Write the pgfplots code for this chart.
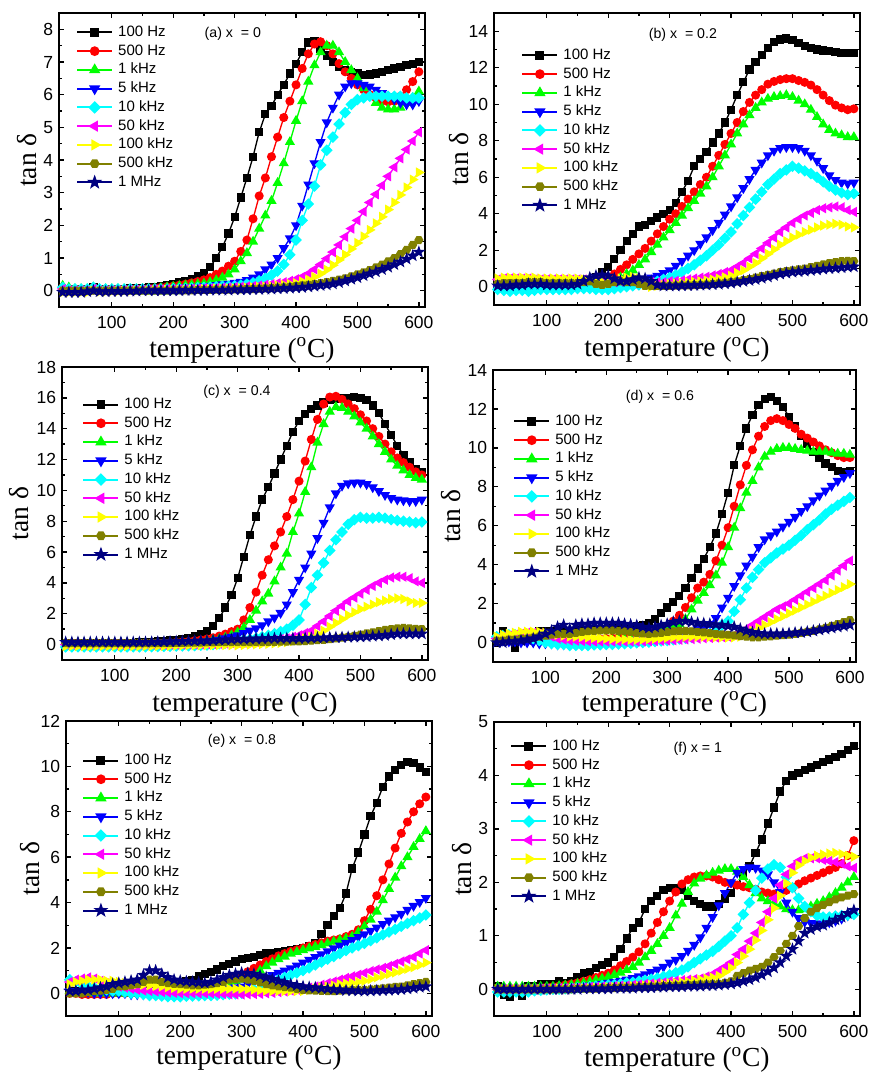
\documentclass[border=0pt]{standalone}
\usepackage{pgfplots}
\pgfplotsset{compat=1.18}
\usepackage{pgfplotstable}
\usetikzlibrary{plotmarks}
\usepackage{fontspec}
\setmainfont{Liberation Sans}
\newfontfamily\serif{Liberation Serif}
\definecolor{navy}{RGB}{0,0,128}
\definecolor{olive}{RGB}{128,128,0}
\definecolor{cgreen}{RGB}{0,255,0}
\definecolor{cblue}{RGB}{0,0,255}
\definecolor{cred}{RGB}{255,0,0}
\definecolor{ccyan}{RGB}{0,255,255}
\definecolor{cmag}{RGB}{255,0,255}
\definecolor{cyel}{RGB}{255,255,0}

\pgfdeclareplotmark{hexa}{%
 \pgfpathmoveto{\pgfqpoint{\pgfplotmarksize}{0pt}}%
 \pgfpathlineto{\pgfqpoint{0.5\pgfplotmarksize}{0.866\pgfplotmarksize}}%
 \pgfpathlineto{\pgfqpoint{-0.5\pgfplotmarksize}{0.866\pgfplotmarksize}}%
 \pgfpathlineto{\pgfqpoint{-\pgfplotmarksize}{0pt}}%
 \pgfpathlineto{\pgfqpoint{-0.5\pgfplotmarksize}{-0.866\pgfplotmarksize}}%
 \pgfpathlineto{\pgfqpoint{0.5\pgfplotmarksize}{-0.866\pgfplotmarksize}}%
 \pgfpathclose\pgfusepathqfillstroke}
\pgfdeclareplotmark{fstar}{%
 \pgfpathmoveto{\pgfqpoint{0pt}{1.25\pgfplotmarksize}}%
 \pgfpathlineto{\pgfqpoint{-0.2939\pgfplotmarksize}{0.4045\pgfplotmarksize}}%
 \pgfpathlineto{\pgfqpoint{-1.1889\pgfplotmarksize}{0.3863\pgfplotmarksize}}%
 \pgfpathlineto{\pgfqpoint{-0.4755\pgfplotmarksize}{-0.1545\pgfplotmarksize}}%
 \pgfpathlineto{\pgfqpoint{-0.7347\pgfplotmarksize}{-1.0113\pgfplotmarksize}}%
 \pgfpathlineto{\pgfqpoint{0pt}{-0.5\pgfplotmarksize}}%
 \pgfpathlineto{\pgfqpoint{0.7347\pgfplotmarksize}{-1.0113\pgfplotmarksize}}%
 \pgfpathlineto{\pgfqpoint{0.4755\pgfplotmarksize}{-0.1545\pgfplotmarksize}}%
 \pgfpathlineto{\pgfqpoint{1.1889\pgfplotmarksize}{0.3863\pgfplotmarksize}}%
 \pgfpathlineto{\pgfqpoint{0.2939\pgfplotmarksize}{0.4045\pgfplotmarksize}}%
 \pgfpathclose\pgfusepathqfillstroke}

\pgfplotscreateplotcyclelist{tand}{%
black,mark=square*,mark options={scale=0.9}\\%
cred,mark=*\\%
cgreen,mark=triangle*,mark options={scale=1.2}\\%
cblue,mark=triangle*,mark options={rotate=180,scale=1.2}\\%
ccyan,mark=square*,mark options={rotate=45,scale=0.9}\\%
cmag,mark=triangle*,mark options={rotate=90,scale=1.2}\\%
cyel,mark=triangle*,mark options={rotate=-90,scale=1.2}\\%
olive,mark=hexa\\%
navy,mark=fstar\\%
}

\tikzset{ptitle/.style={font=\fontsize{8.5}{10}\selectfont, inner sep=0pt}}

\pgfplotsset{
 tdax/.style={
  scale only axis,
  axis line style={line width=1.1pt},
  every tick/.style={black, line width=0.8pt},
  major tick length=3pt, minor tick length=1.8pt,
  tick align=inside,
  xmin=14, xmax=610, xtick={100,200,...,600},
  minor x tick num=1, minor y tick num=1,
  /pgf/number format/assume math mode=true,
  ticklabel style={font=\fontsize{10.5}{12}\selectfont},
  xticklabel style={yshift=-2pt},
  xlabel={\serif temperature (\textsuperscript{o}C)},
  ylabel={\serif tan δ},
  label style={font=\fontsize{16.5}{18}\selectfont},
  xlabel style={anchor=north, inner sep=0pt},
  ylabel style={anchor=center, inner sep=0pt},
  cycle list name=tand,
  every axis plot/.append style={line width=0.8pt, mark size=2.3pt},
  legend style={anchor=north west, draw=none, fill=none, inner sep=0pt,
    font=\fontsize{9}{10}\selectfont, row sep=0pt, column sep=3pt,
    nodes={inner sep=0pt, text height=8pt, text depth=3.25pt}},
  legend cell align=left,
  legend image code/.code={\draw[mark repeat=2,mark phase=2,##1,line width=1.2pt] plot coordinates {(0pt,0pt) (10.5pt,0pt) (21pt,0pt)};},
  legend entries={100 Hz, 500 Hz, 1 kHz, 5 kHz, 10 kHz, 50 kHz, 100 kHz, 500 kHz, 1 MHz},
 },
}

\newcommand\nine[1]{%
\addplot table[x=T,y=bk]{#1};
\addplot table[x=T,y=rd]{#1};
\addplot table[x=T,y=gn]{#1};
\addplot table[x=T,y=bl]{#1};
\addplot table[x=T,y=cy]{#1};
\addplot table[x=T,y=mg]{#1};
\addplot table[x=T,y=ye]{#1};
\addplot table[x=T,y=ol]{#1};
\addplot table[x=T,y=nv]{#1};
}

\pgfplotstableread{
T bk rd gn bl cy mg ye ol nv
20 0.05 0.10 0.15 0.05 0.10 0.05 -0.05 0.00 -0.05
30 0.05 0.05 0.10 0.05 0.05 0.00 -0.05 0.00 -0.05
40 0.05 0.05 0.05 0.05 0.05 0.00 -0.05 0.00 -0.05
50 0.05 0.05 0.05 0.05 0.05 0.00 -0.05 0.00 -0.05
60 0.05 0.05 0.05 0.05 0.05 0.00 -0.05 0.00 -0.03
70 0.10 0.10 0.10 0.05 0.10 0.05 0.00 0.00 0.00
80 0.05 0.05 0.05 0.05 0.05 0.00 -0.03 0.00 -0.03
90 0.05 0.05 0.05 0.05 0.05 0.00 -0.03 0.00 -0.03
100 0.05 0.05 0.05 0.05 0.05 0.00 -0.02 0.00 -0.02
110 0.06 0.05 0.05 0.05 0.05 0.00 -0.02 0.00 -0.02
120 0.06 0.05 0.05 0.05 0.05 0.01 -0.01 0.00 -0.02
130 0.07 0.05 0.05 0.05 0.05 0.01 -0.01 0.00 -0.01
140 0.08 0.06 0.05 0.05 0.05 0.02 0.00 0.00 -0.01
150 0.09 0.06 0.05 0.05 0.05 0.02 0.00 0.00 0.00
160 0.10 0.07 0.06 0.05 0.05 0.03 0.00 0.00 0.00
170 0.12 0.08 0.07 0.05 0.05 0.03 0.01 0.00 0.00
180 0.15 0.10 0.08 0.06 0.05 0.03 0.01 0.00 0.00
190 0.18 0.12 0.10 0.07 0.05 0.04 0.02 0.00 0.00
200 0.20 0.14 0.12 0.08 0.06 0.04 0.02 0.01 0.00
210 0.25 0.17 0.14 0.09 0.06 0.05 0.03 0.01 0.00
220 0.30 0.20 0.16 0.10 0.07 0.05 0.03 0.01 0.01
230 0.36 0.24 0.18 0.11 0.08 0.06 0.04 0.01 0.01
240 0.45 0.28 0.20 0.12 0.09 0.06 0.04 0.02 0.01
250 0.55 0.33 0.22 0.14 0.10 0.07 0.05 0.02 0.01
260 0.72 0.40 0.26 0.15 0.11 0.07 0.05 0.02 0.02
270 1.00 0.50 0.32 0.17 0.12 0.08 0.06 0.03 0.02
280 1.33 0.60 0.40 0.19 0.13 0.09 0.06 0.03 0.02
290 1.75 0.75 0.50 0.21 0.14 0.10 0.07 0.03 0.02
300 2.25 0.90 0.65 0.24 0.15 0.11 0.07 0.04 0.03
310 2.85 1.20 0.90 0.27 0.17 0.12 0.08 0.04 0.03
320 3.45 1.55 1.15 0.32 0.20 0.13 0.09 0.05 0.03
330 4.10 2.20 1.50 0.40 0.24 0.14 0.10 0.05 0.04
340 4.85 2.90 1.90 0.50 0.30 0.16 0.11 0.06 0.04
350 5.40 3.45 2.30 0.65 0.38 0.18 0.12 0.07 0.05
360 5.65 4.10 2.75 0.80 0.48 0.20 0.14 0.08 0.05
370 6.00 4.70 3.30 1.00 0.60 0.23 0.16 0.09 0.06
380 6.30 5.30 3.90 1.30 0.80 0.26 0.18 0.10 0.07
390 6.65 5.80 4.55 1.60 1.10 0.30 0.20 0.12 0.08
400 6.95 6.30 5.20 2.00 1.55 0.35 0.23 0.14 0.09
410 7.30 6.80 5.80 2.60 2.15 0.42 0.28 0.16 0.10
420 7.60 7.25 6.40 3.25 2.65 0.52 0.34 0.18 0.12
430 7.65 7.55 6.90 3.90 3.20 0.65 0.42 0.20 0.14
440 7.40 7.62 7.30 4.55 3.85 0.80 0.52 0.23 0.16
450 7.20 7.50 7.50 5.15 4.30 0.98 0.64 0.26 0.18
460 7.00 7.25 7.50 5.60 4.70 1.18 0.78 0.30 0.21
470 6.85 6.95 7.30 6.00 5.10 1.40 0.94 0.34 0.25
480 6.75 6.70 7.00 6.25 5.45 1.65 1.10 0.38 0.30
490 6.70 6.50 6.75 6.35 5.70 1.90 1.28 0.44 0.35
500 6.65 6.30 6.50 6.35 5.85 2.15 1.46 0.50 0.40
510 6.60 6.15 6.20 6.30 5.90 2.42 1.66 0.56 0.46
520 6.62 6.00 5.95 6.25 5.95 2.70 1.86 0.63 0.52
530 6.65 5.90 5.75 6.15 5.95 2.95 2.06 0.71 0.58
540 6.70 5.80 5.60 6.05 5.95 3.22 2.26 0.80 0.65
550 6.75 5.78 5.55 5.95 5.95 3.50 2.48 0.90 0.72
560 6.80 5.80 5.55 5.85 5.95 3.78 2.70 1.00 0.80
570 6.85 5.95 5.60 5.75 5.95 4.05 2.93 1.12 0.88
580 6.90 6.15 5.75 5.70 5.90 4.32 3.16 1.25 0.97
590 6.95 6.40 5.90 5.70 5.90 4.58 3.40 1.40 1.07
600 7.00 6.70 6.10 5.80 5.90 4.85 3.62 1.55 1.18
}\tA

\pgfplotstableread{
T bk rd gn bl cy mg ye ol nv
20 0.10 0.05 0.00 -0.10 -0.15 0.40 0.45 0.15 0.05
30 0.05 0.05 0.00 -0.10 -0.20 0.45 0.50 0.20 0.05
40 0.00 0.00 -0.05 -0.15 -0.25 0.45 0.50 0.20 0.05
50 0.05 0.00 0.00 -0.10 -0.20 0.45 0.50 0.20 0.10
60 0.10 0.05 0.00 -0.10 -0.20 0.45 0.50 0.20 0.10
70 0.10 0.05 0.00 -0.10 -0.25 0.45 0.50 0.25 0.15
80 0.10 0.05 0.00 -0.10 -0.20 0.40 0.50 0.25 0.15
90 0.10 0.05 0.00 -0.10 -0.15 0.40 0.45 0.25 0.15
100 0.10 0.05 0.00 -0.05 -0.15 0.40 0.45 0.20 0.10
110 0.10 0.05 0.00 -0.05 -0.15 0.40 0.45 0.20 0.10
120 0.10 0.05 0.00 -0.05 -0.15 0.40 0.45 0.20 0.10
130 0.10 0.05 0.00 -0.05 -0.15 0.40 0.45 0.20 0.10
140 0.10 0.05 0.00 -0.05 -0.15 0.40 0.45 0.20 0.10
150 0.10 0.05 0.00 -0.05 -0.10 0.40 0.45 0.20 0.15
160 0.20 0.10 0.05 0.00 -0.10 0.40 0.40 0.25 0.30
170 0.35 0.20 0.10 0.05 -0.10 0.35 0.35 0.30 0.50
180 0.50 0.30 0.20 0.10 -0.15 0.30 0.30 0.15 0.60
190 0.80 0.40 0.25 0.15 -0.15 0.25 0.25 0.10 0.65
200 1.10 0.50 0.30 0.15 -0.15 0.20 0.20 0.15 0.60
210 1.50 0.70 0.35 0.15 -0.10 0.25 0.30 0.25 0.45
220 2.00 0.95 0.50 0.20 -0.05 0.30 0.45 0.30 0.30
230 2.50 1.20 0.70 0.25 0.00 0.30 0.50 0.25 0.30
240 2.90 1.50 0.90 0.30 0.05 0.30 0.55 0.25 0.40
250 3.30 1.80 1.20 0.35 0.10 0.30 0.45 0.15 0.50
260 3.40 2.10 1.50 0.40 0.15 0.25 0.10 0.05 0.45
270 3.60 2.50 1.90 0.50 0.20 0.25 0.00 0.05 0.30
280 3.80 2.90 2.30 0.60 0.30 0.25 0.05 0.05 0.10
290 4.00 3.30 2.70 0.75 0.40 0.25 0.10 0.05 0.05
300 4.20 3.70 3.10 0.90 0.50 0.30 0.15 0.05 0.05
310 4.60 4.00 3.50 1.15 0.65 0.32 0.18 0.06 0.05
320 5.20 4.40 3.90 1.40 0.80 0.35 0.20 0.07 0.06
330 5.80 4.80 4.30 1.70 1.00 0.40 0.24 0.08 0.07
340 6.60 5.20 4.70 2.00 1.20 0.45 0.27 0.09 0.08
350 7.00 5.60 5.10 2.35 1.45 0.50 0.30 0.10 0.09
360 7.40 6.00 5.50 2.70 1.70 0.55 0.35 0.12 0.10
370 7.90 6.60 6.00 3.10 2.00 0.62 0.40 0.15 0.12
380 8.40 7.20 6.60 3.50 2.30 0.70 0.45 0.18 0.14
390 9.00 7.80 7.20 3.95 2.65 0.80 0.52 0.21 0.17
400 9.70 8.40 7.80 4.40 3.00 0.90 0.60 0.25 0.20
410 10.50 9.00 8.40 4.90 3.45 1.10 0.75 0.30 0.25
420 11.20 9.60 8.90 5.40 3.90 1.30 0.90 0.36 0.30
430 11.90 10.10 9.40 5.90 4.35 1.55 1.10 0.42 0.35
440 12.30 10.50 9.80 6.40 4.80 1.80 1.30 0.50 0.40
450 12.70 10.80 10.10 6.80 5.20 2.10 1.55 0.58 0.47
460 13.10 11.10 10.30 7.20 5.60 2.40 1.80 0.65 0.54
470 13.40 11.25 10.40 7.45 5.90 2.70 2.05 0.72 0.62
480 13.55 11.35 10.45 7.60 6.20 3.00 2.30 0.80 0.70
490 13.60 11.40 10.50 7.65 6.40 3.25 2.50 0.85 0.75
500 13.50 11.40 10.40 7.65 6.60 3.50 2.70 0.90 0.80
510 13.35 11.30 10.20 7.60 6.50 3.70 2.85 0.95 0.83
520 13.20 11.20 10.00 7.45 6.35 3.90 3.00 1.00 0.86
530 13.10 11.05 9.70 7.20 6.20 4.05 3.12 1.08 0.90
540 13.00 10.80 9.30 6.90 6.00 4.20 3.25 1.15 0.93
550 12.95 10.50 8.90 6.50 5.75 4.30 3.35 1.22 0.97
560 12.90 10.20 8.60 6.10 5.50 4.35 3.40 1.30 1.00
570 12.85 9.95 8.40 5.85 5.30 4.40 3.45 1.35 1.02
580 12.80 9.80 8.30 5.70 5.15 4.35 3.40 1.40 1.05
590 12.80 9.70 8.20 5.65 5.05 4.20 3.30 1.42 1.08
600 12.80 9.75 8.20 5.70 5.10 4.10 3.25 1.40 1.10
}\tB

\pgfplotstableread{
T bk rd gn bl cy mg ye ol nv
20 0.10 0.05 0.10 0.00 -0.15 0.00 -0.10 0.10 0.15
30 0.10 0.05 0.10 0.00 -0.15 0.00 -0.10 0.10 0.15
40 0.10 0.05 0.10 0.00 -0.15 0.00 -0.10 0.10 0.15
50 0.10 0.05 0.10 0.00 -0.15 0.00 -0.10 0.10 0.15
60 0.10 0.05 0.10 0.00 -0.15 0.00 -0.10 0.10 0.15
70 0.10 0.05 0.10 0.00 -0.15 0.00 -0.10 0.10 0.15
80 0.10 0.05 0.10 0.00 -0.15 0.00 -0.10 0.10 0.15
90 0.10 0.05 0.10 0.00 -0.15 0.00 -0.10 0.10 0.15
100 0.10 0.05 0.10 0.00 -0.15 0.00 -0.10 0.10 0.15
110 0.10 0.05 0.10 0.00 -0.15 0.00 -0.10 0.10 0.15
120 0.12 0.05 0.10 0.00 -0.15 0.00 -0.10 0.10 0.15
130 0.12 0.05 0.10 0.00 -0.15 0.00 -0.10 0.10 0.15
140 0.14 0.06 0.10 0.00 -0.15 0.00 -0.10 0.10 0.15
150 0.15 0.07 0.10 0.00 -0.15 0.00 -0.10 0.10 0.15
160 0.17 0.08 0.10 0.01 -0.14 0.00 -0.10 0.10 0.16
170 0.20 0.09 0.10 0.02 -0.13 0.00 -0.10 0.10 0.17
180 0.23 0.10 0.10 0.03 -0.12 0.00 -0.09 0.10 0.18
190 0.26 0.12 0.10 0.04 -0.11 0.00 -0.08 0.10 0.19
200 0.30 0.14 0.11 0.05 -0.10 0.00 -0.07 0.11 0.20
210 0.35 0.17 0.12 0.06 -0.09 0.00 -0.06 0.11 0.21
220 0.45 0.20 0.14 0.08 -0.08 0.01 -0.05 0.12 0.22
230 0.55 0.25 0.17 0.10 -0.07 0.01 -0.05 0.12 0.23
240 0.70 0.30 0.20 0.13 -0.05 0.02 -0.04 0.13 0.24
250 0.90 0.36 0.25 0.20 -0.03 0.03 -0.03 0.14 0.25
260 1.20 0.44 0.30 0.25 0.00 0.04 -0.03 0.14 0.27
270 1.70 0.55 0.36 0.30 0.05 0.05 -0.03 0.15 0.29
280 2.40 0.68 0.45 0.40 0.10 0.06 -0.03 0.15 0.31
290 3.20 0.84 0.60 0.50 0.17 0.08 -0.04 0.15 0.33
300 4.30 1.00 0.80 0.60 0.25 0.10 -0.05 0.15 0.35
310 5.70 1.60 1.10 0.75 0.30 0.12 -0.03 0.16 0.36
320 7.10 2.40 1.60 0.90 0.35 0.15 0.00 0.16 0.37
330 8.30 3.40 2.20 1.05 0.42 0.17 0.02 0.17 0.38
340 9.40 4.50 2.80 1.25 0.50 0.20 0.04 0.17 0.39
350 10.20 5.50 3.30 1.50 0.60 0.25 0.05 0.18 0.40
360 11.10 6.40 4.10 1.75 0.70 0.30 0.08 0.18 0.40
370 12.00 7.30 5.00 2.05 0.85 0.35 0.11 0.19 0.40
380 12.90 8.30 5.90 2.60 1.00 0.40 0.15 0.19 0.40
390 13.80 9.40 7.30 3.40 1.25 0.50 0.22 0.20 0.40
400 14.50 10.60 8.50 4.20 1.60 0.60 0.30 0.20 0.40
410 14.95 11.90 9.90 5.00 2.60 0.75 0.40 0.22 0.41
420 15.30 13.30 11.50 5.90 3.70 0.90 0.50 0.25 0.42
430 15.50 14.60 13.10 6.90 4.50 1.20 0.70 0.28 0.43
440 15.70 15.60 14.30 7.90 5.30 1.50 0.90 0.30 0.44
450 15.85 16.05 15.10 8.90 6.10 1.85 1.15 0.35 0.45
460 15.90 16.10 15.40 9.80 6.80 2.20 1.40 0.40 0.46
470 15.95 15.90 15.35 10.30 7.30 2.50 1.65 0.45 0.47
480 16.00 15.60 15.10 10.45 7.80 2.80 1.90 0.50 0.48
490 16.05 15.30 14.80 10.50 8.10 3.05 2.10 0.57 0.49
500 16.00 14.90 14.40 10.50 8.25 3.30 2.30 0.65 0.50
510 15.85 14.50 14.00 10.40 8.20 3.55 2.45 0.72 0.52
520 15.50 14.00 13.50 10.20 8.20 3.80 2.60 0.80 0.55
530 15.00 13.50 13.00 9.95 8.25 4.00 2.75 0.88 0.57
540 14.30 13.00 12.50 9.70 8.20 4.20 2.85 0.95 0.60
550 13.60 12.50 12.00 9.50 8.10 4.35 2.95 1.00 0.65
560 12.90 12.10 11.60 9.40 8.05 4.40 3.00 1.05 0.70
570 12.30 11.80 11.30 9.35 8.00 4.40 2.95 1.08 0.70
580 11.80 11.50 11.00 9.30 7.95 4.30 2.80 1.05 0.70
590 11.40 11.20 10.80 9.30 7.90 4.10 2.70 1.02 0.70
600 11.20 11.00 10.70 9.40 7.95 4.00 2.70 1.00 0.70
}\tC

\pgfplotstableread{
T bk rd gn bl cy mg ye ol nv
20 0.00 0.20 0.20 0.10 0.30 0.20 0.30 0.10 0.00
30 0.60 0.25 0.25 0.10 0.35 0.30 0.40 0.10 0.00
40 0.20 0.30 0.25 0.05 0.40 0.35 0.45 0.15 0.05
50 -0.25 0.30 0.25 0.05 0.40 0.40 0.50 0.15 0.05
60 0.10 0.30 0.25 0.00 0.35 0.45 0.55 0.20 0.10
70 0.30 0.25 0.20 0.00 0.30 0.50 0.55 0.20 0.15
80 0.50 0.20 0.20 0.00 0.20 0.50 0.55 0.25 0.20
90 0.60 0.15 0.15 -0.05 0.10 0.45 0.55 0.30 0.30
100 0.60 0.10 0.10 -0.05 0.00 0.40 0.50 0.35 0.45
110 0.60 0.10 0.10 -0.05 -0.05 0.30 0.45 0.40 0.60
120 0.60 0.10 0.10 -0.10 -0.10 0.20 0.40 0.45 0.80
130 0.60 0.10 0.10 -0.10 -0.10 0.15 0.35 0.45 0.90
140 0.60 0.10 0.10 -0.10 -0.15 0.10 0.30 0.45 0.70
150 0.60 0.10 0.10 -0.10 -0.15 0.10 0.30 0.50 0.90
160 0.65 0.12 0.10 -0.10 -0.15 0.08 0.28 0.55 0.95
170 0.65 0.14 0.10 -0.08 -0.15 0.06 0.26 0.58 0.95
180 0.70 0.16 0.10 -0.06 -0.12 0.05 0.24 0.60 1.00
190 0.70 0.18 0.10 -0.05 -0.12 0.05 0.22 0.62 1.00
200 0.70 0.20 0.10 -0.05 -0.10 0.05 0.20 0.62 1.00
210 0.72 0.22 0.12 -0.03 -0.10 0.05 0.18 0.62 1.00
220 0.75 0.25 0.15 0.00 -0.08 0.05 0.17 0.60 1.00
230 0.78 0.30 0.18 0.02 -0.06 0.05 0.16 0.58 0.95
240 0.80 0.35 0.22 0.05 -0.04 0.05 0.15 0.55 0.92
250 0.85 0.40 0.28 0.08 -0.02 0.05 0.15 0.50 0.88
260 0.90 0.45 0.35 0.10 0.00 0.06 0.16 0.47 0.80
270 1.00 0.50 0.42 0.14 0.02 0.07 0.18 0.45 0.75
280 1.20 0.58 0.50 0.18 0.05 0.08 0.20 0.47 0.80
290 1.50 0.70 0.57 0.22 0.08 0.09 0.22 0.50 0.88
300 1.80 0.85 0.65 0.28 0.10 0.10 0.25 0.55 0.95
310 2.10 1.10 0.80 0.35 0.14 0.12 0.27 0.58 1.05
320 2.40 1.40 0.95 0.42 0.18 0.14 0.28 0.60 1.10
330 2.80 1.80 1.20 0.50 0.22 0.16 0.29 0.60 1.10
340 3.30 2.30 1.70 0.60 0.27 0.18 0.30 0.58 1.05
350 3.80 2.80 2.15 0.70 0.32 0.20 0.30 0.55 1.00
360 4.30 3.10 2.55 0.80 0.38 0.22 0.30 0.52 0.98
370 4.90 3.50 2.95 0.95 0.45 0.24 0.29 0.48 0.95
380 5.60 4.20 3.45 1.25 0.60 0.26 0.28 0.45 0.92
390 6.60 5.00 4.10 1.80 0.90 0.28 0.27 0.42 0.90
400 7.70 5.90 4.90 2.30 1.10 0.30 0.26 0.40 0.85
410 9.10 7.00 5.90 2.90 1.60 0.38 0.27 0.37 0.80
420 10.10 8.10 6.90 3.45 2.20 0.50 0.30 0.33 0.70
430 11.00 9.10 7.70 3.95 2.80 0.70 0.45 0.30 0.60
440 11.70 9.90 8.30 4.40 3.35 0.90 0.60 0.27 0.52
450 12.20 10.60 9.00 4.90 3.75 1.10 0.75 0.27 0.48
460 12.50 11.10 9.55 5.30 4.10 1.30 0.90 0.30 0.45
470 12.60 11.40 9.80 5.50 4.35 1.50 1.05 0.32 0.45
480 12.40 11.50 9.95 5.70 4.60 1.70 1.20 0.35 0.45
490 12.10 11.40 10.00 5.95 4.80 1.85 1.35 0.38 0.45
500 11.60 11.20 10.00 6.20 5.00 2.00 1.50 0.40 0.47
510 11.10 11.00 9.95 6.45 5.25 2.20 1.65 0.45 0.50
520 10.60 10.70 9.90 6.75 5.50 2.40 1.80 0.50 0.52
530 10.20 10.50 9.85 7.00 5.80 2.60 1.95 0.55 0.55
540 9.80 10.30 9.80 7.30 6.05 2.80 2.10 0.60 0.60
550 9.50 10.10 9.80 7.55 6.30 3.00 2.25 0.68 0.65
560 9.20 9.90 9.80 7.80 6.60 3.20 2.40 0.75 0.70
570 9.00 9.75 9.75 8.05 6.85 3.45 2.55 0.85 0.75
580 8.80 9.60 9.70 8.30 7.05 3.70 2.70 0.95 0.80
590 8.75 9.50 9.70 8.50 7.25 3.95 2.85 1.05 0.85
600 8.80 9.50 9.65 8.70 7.45 4.20 3.00 1.15 0.90
}\tD

\pgfplotstableread{
T bk rd gn bl cy mg ye ol nv
20 0.10 0.00 0.10 0.10 0.60 0.50 0.40 0.00 0.10
30 0.10 0.00 0.05 0.10 0.50 0.60 0.50 0.00 0.10
40 0.10 -0.05 0.05 0.05 0.40 0.65 0.55 0.00 0.15
50 0.10 -0.05 0.05 0.05 0.30 0.70 0.60 0.05 0.15
60 0.15 -0.05 0.00 0.00 0.25 0.65 0.60 0.10 0.20
70 0.20 -0.05 0.00 0.00 0.20 0.55 0.60 0.12 0.25
80 0.25 -0.05 0.00 0.00 0.15 0.45 0.55 0.15 0.30
90 0.30 0.00 0.00 0.00 0.10 0.35 0.55 0.20 0.40
100 0.35 0.00 0.00 0.00 0.10 0.30 0.50 0.30 0.45
110 0.40 0.00 0.00 0.00 0.05 0.25 0.45 0.30 0.50
120 0.40 0.00 0.00 -0.05 0.00 0.20 0.40 0.35 0.55
130 0.40 0.00 0.00 -0.05 0.00 0.15 0.40 0.40 0.60
140 0.40 0.00 0.00 -0.05 -0.05 0.12 0.38 0.50 0.80
150 0.40 0.00 0.00 -0.05 -0.10 0.10 0.35 0.60 1.00
160 0.40 0.00 0.02 -0.05 -0.10 0.08 0.32 0.60 1.00
170 0.40 0.02 0.04 -0.05 -0.12 0.06 0.30 0.50 0.85
180 0.40 0.04 0.06 -0.03 -0.15 0.04 0.27 0.45 0.70
190 0.45 0.06 0.08 -0.02 -0.15 0.02 0.24 0.42 0.60
200 0.50 0.10 0.10 0.00 -0.15 0.00 0.20 0.40 0.55
210 0.55 0.15 0.12 0.02 -0.13 0.00 0.20 0.38 0.52
220 0.60 0.20 0.15 0.04 -0.12 0.00 0.20 0.35 0.50
230 0.75 0.28 0.20 0.06 -0.11 0.00 0.20 0.35 0.48
240 0.85 0.35 0.25 0.08 -0.10 0.00 0.20 0.38 0.45
250 0.95 0.40 0.30 0.10 -0.10 0.00 0.20 0.40 0.50
260 1.05 0.45 0.35 0.14 -0.08 -0.02 0.20 0.45 0.60
270 1.20 0.52 0.42 0.18 -0.06 -0.03 0.20 0.50 0.70
280 1.30 0.60 0.50 0.22 -0.04 -0.04 0.20 0.60 0.80
290 1.40 0.70 0.55 0.26 -0.02 -0.05 0.20 0.62 0.85
300 1.50 0.80 0.60 0.30 0.00 -0.05 0.20 0.65 0.90
310 1.55 0.95 0.70 0.40 0.08 -0.04 0.18 0.60 0.88
320 1.60 1.10 0.80 0.50 0.15 -0.03 0.16 0.55 0.85
330 1.68 1.25 1.00 0.60 0.22 -0.02 0.14 0.48 0.78
340 1.75 1.40 1.20 0.70 0.30 0.00 0.12 0.40 0.70
350 1.78 1.52 1.35 0.80 0.45 0.02 0.10 0.35 0.62
360 1.80 1.65 1.50 0.90 0.60 0.05 0.10 0.30 0.55
370 1.85 1.75 1.62 1.00 0.70 0.08 0.10 0.27 0.48
380 1.90 1.85 1.75 1.10 0.80 0.12 0.10 0.25 0.40
390 1.95 1.92 1.82 1.22 0.90 0.16 0.10 0.20 0.35
400 2.00 2.00 1.90 1.35 1.00 0.20 0.10 0.15 0.30
410 2.08 2.08 1.98 1.48 1.12 0.25 0.15 0.13 0.27
420 2.20 2.15 2.05 1.60 1.25 0.30 0.20 0.12 0.25
430 2.60 2.22 2.12 1.72 1.38 0.38 0.25 0.11 0.22
440 3.00 2.30 2.20 1.85 1.50 0.45 0.30 0.10 0.20
450 3.40 2.35 2.28 1.98 1.62 0.52 0.35 0.10 0.17
460 3.75 2.40 2.35 2.10 1.75 0.60 0.40 0.12 0.15
470 4.40 2.50 2.42 2.22 1.88 0.68 0.43 0.13 0.13
480 5.50 2.60 2.50 2.35 2.00 0.75 0.45 0.14 0.12
490 6.20 2.80 2.70 2.48 2.10 0.82 0.50 0.15 0.11
500 7.00 3.20 2.95 2.60 2.20 0.90 0.55 0.15 0.10
510 7.80 3.70 3.25 2.75 2.32 0.98 0.62 0.17 0.11
520 8.40 4.30 3.60 2.90 2.45 1.05 0.70 0.20 0.12
530 9.10 5.00 4.10 3.05 2.58 1.12 0.78 0.22 0.13
540 9.55 5.70 4.60 3.20 2.70 1.20 0.85 0.25 0.14
550 9.85 6.40 5.10 3.35 2.82 1.30 0.92 0.28 0.15
560 10.05 7.05 5.60 3.50 2.95 1.40 1.00 0.30 0.17
570 10.20 7.55 6.00 3.68 3.08 1.50 1.08 0.35 0.20
580 10.15 8.00 6.45 3.85 3.20 1.60 1.15 0.40 0.23
590 9.95 8.35 6.80 4.02 3.32 1.75 1.25 0.45 0.27
600 9.75 8.65 7.15 4.20 3.45 1.90 1.35 0.50 0.30
}\tE

\pgfplotstableread{
T bk rd gn bl cy mg ye ol nv
20 0.05 0.00 0.05 0.00 -0.05 0.00 0.00 0.00 0.00
30 -0.10 0.00 0.05 0.00 -0.05 0.00 0.00 0.00 0.00
40 -0.15 0.00 0.05 0.00 -0.05 0.00 0.00 0.00 0.00
50 0.00 0.00 0.05 0.00 -0.05 0.00 0.00 0.00 0.00
60 -0.12 0.00 0.05 0.00 -0.05 0.00 0.00 0.00 0.00
70 0.05 0.00 0.05 0.00 -0.05 0.00 0.00 0.00 0.00
80 0.05 0.02 0.05 0.00 -0.03 0.00 0.00 0.00 0.00
90 0.10 0.03 0.05 0.01 -0.02 0.01 0.00 0.00 0.00
100 0.10 0.04 0.05 0.02 -0.01 0.01 0.00 0.00 0.00
110 0.10 0.05 0.05 0.02 0.00 0.01 0.00 0.00 0.00
120 0.15 0.06 0.06 0.03 0.00 0.02 0.01 0.00 0.00
130 0.12 0.08 0.07 0.03 0.01 0.02 0.01 0.00 0.00
140 0.15 0.10 0.08 0.04 0.02 0.02 0.01 0.00 0.00
150 0.22 0.12 0.10 0.05 0.03 0.03 0.02 0.01 0.00
160 0.30 0.15 0.12 0.06 0.04 0.03 0.02 0.01 0.01
170 0.32 0.18 0.14 0.07 0.05 0.04 0.02 0.01 0.01
180 0.40 0.22 0.17 0.08 0.06 0.04 0.03 0.01 0.01
190 0.45 0.26 0.20 0.10 0.07 0.05 0.03 0.02 0.01
200 0.50 0.30 0.23 0.12 0.08 0.05 0.04 0.02 0.01
210 0.60 0.36 0.27 0.14 0.09 0.06 0.04 0.02 0.02
220 0.75 0.44 0.31 0.16 0.10 0.07 0.05 0.03 0.02
230 0.95 0.52 0.36 0.18 0.12 0.07 0.05 0.03 0.02
240 1.15 0.60 0.42 0.21 0.13 0.08 0.06 0.03 0.02
250 1.25 0.70 0.50 0.24 0.15 0.09 0.06 0.04 0.03
260 1.50 0.85 0.60 0.28 0.17 0.10 0.07 0.04 0.03
270 1.65 1.05 0.72 0.32 0.19 0.11 0.08 0.05 0.03
280 1.75 1.25 0.85 0.37 0.21 0.12 0.09 0.05 0.04
290 1.85 1.45 1.00 0.42 0.24 0.13 0.10 0.06 0.04
300 1.90 1.65 1.15 0.50 0.27 0.15 0.11 0.06 0.05
310 1.90 1.82 1.38 0.55 0.31 0.16 0.12 0.07 0.05
320 1.85 1.97 1.60 0.62 0.36 0.17 0.13 0.07 0.05
330 1.75 2.05 1.82 0.72 0.42 0.18 0.14 0.08 0.06
340 1.65 2.10 1.98 0.83 0.50 0.19 0.16 0.08 0.06
350 1.60 2.12 2.07 0.97 0.57 0.20 0.18 0.09 0.06
360 1.55 2.12 2.13 1.15 0.64 0.24 0.20 0.09 0.07
370 1.55 2.10 2.18 1.35 0.71 0.28 0.22 0.10 0.07
380 1.60 2.05 2.22 1.57 0.80 0.35 0.25 0.10 0.08
390 1.70 2.00 2.25 1.80 0.90 0.42 0.32 0.12 0.09
400 1.80 1.98 2.25 2.00 1.00 0.50 0.40 0.15 0.10
410 1.95 1.95 2.20 2.18 1.15 0.65 0.50 0.25 0.12
420 2.15 1.92 2.10 2.25 1.40 0.75 0.62 0.30 0.15
430 2.30 1.90 1.95 2.28 1.62 0.90 0.75 0.35 0.18
440 2.55 1.87 1.80 2.27 1.85 1.05 0.92 0.38 0.22
450 2.80 1.82 1.70 2.22 2.08 1.25 1.10 0.42 0.27
460 3.10 1.80 1.65 2.15 2.25 1.45 1.30 0.50 0.33
470 3.40 1.78 1.60 2.00 2.33 1.70 1.52 0.60 0.40
480 3.70 1.80 1.55 1.82 2.28 1.95 1.75 0.72 0.50
490 3.90 1.85 1.50 1.62 2.10 2.15 1.98 0.85 0.62
500 4.00 1.90 1.48 1.45 1.90 2.30 2.18 1.00 0.75
510 4.05 1.97 1.48 1.33 1.70 2.40 2.32 1.18 0.90
520 4.10 2.03 1.50 1.26 1.55 2.45 2.40 1.33 1.05
530 4.15 2.08 1.55 1.24 1.45 2.45 2.46 1.45 1.12
540 4.20 2.13 1.60 1.23 1.38 2.45 2.50 1.52 1.17
550 4.25 2.18 1.65 1.23 1.35 2.42 2.52 1.58 1.20
560 4.30 2.23 1.72 1.25 1.35 2.40 2.54 1.63 1.25
570 4.35 2.28 1.80 1.28 1.37 2.38 2.55 1.68 1.30
580 4.40 2.35 1.90 1.32 1.38 2.35 2.53 1.72 1.35
590 4.47 2.50 2.00 1.38 1.39 2.30 2.50 1.75 1.42
600 4.55 2.78 2.10 1.45 1.40 2.27 2.48 1.78 1.48
}\tF

\begin{document}
\begin{tikzpicture}
\path[use as bounding box] (0,0) rectangle (531.6pt,650.4pt);

\begin{axis}[tdax, at={(35.4pt,466.2pt)}, anchor=south west, width=219.6pt, height=176.4pt,
  ymin=-0.5, ymax=8.5, ytick={0,1,...,8},
  legend style={at={(0.046,0.967)}},
  xlabel style={at={(axis description cs:0.5,-0.104)}},
  ylabel style={at={(axis description cs:-0.0874,0.5)}}]
\nine{\tA}
\node[ptitle] at (rel axis cs:0.475,0.929) {(a) x\ \ = 0};
\end{axis}

\begin{axis}[tdax, at={(296.4pt,467.4pt)}, anchor=south west, width=219.6pt, height=175.2pt,
  ymin=-1, ymax=15, ytick={0,2,...,14},
  legend style={at={(0.074,0.888)}},
  xlabel style={at={(axis description cs:0.5,-0.1096)}},
  ylabel style={at={(axis description cs:-0.0956,0.5)}}]
\nine{\tB}
\node[ptitle] at (rel axis cs:0.516,0.925) {(b) x\ \ = 0.2};
\end{axis}

\begin{axis}[tdax, at={(37.2pt,254.4pt)}, anchor=south west, width=219.6pt, height=175.8pt,
  ymin=-1, ymax=18, ytick={0,2,...,18},
  legend style={at={(0.055,0.905)}},
  xlabel style={at={(axis description cs:0.5,-0.1092)}},
  ylabel style={at={(axis description cs:-0.1175,0.5)}}]
\nine{\tC}
\node[ptitle] at (rel axis cs:0.478,0.915) {(c) x\ \ = 0.4};
\end{axis}

\begin{axis}[tdax, at={(295.8pt,253.2pt)}, anchor=south west, width=217.8pt, height=175.2pt,
  ymin=-1, ymax=14, ytick={0,2,...,14},
  legend style={at={(0.055,0.857)}},
  xlabel style={at={(axis description cs:0.5,-0.1)}},
  ylabel style={at={(axis description cs:-0.1143,0.5)}}]
\nine{\tD}
\node[ptitle] at (rel axis cs:0.46,0.908) {(d) x\ \ = 0.6};
\end{axis}

\begin{axis}[tdax, at={(39.6pt,40.8pt)}, anchor=south west, width=219.6pt, height=177pt,
  ymin=-1, ymax=12, ytick={0,2,...,12},
  legend style={at={(0.044,0.899)}},
  xlabel style={at={(axis description cs:0.5,-0.0983)}},
  ylabel style={at={(axis description cs:-0.0984,0.5)}}]
\nine{\tE}
\node[ptitle] at (rel axis cs:0.481,0.932) {(e) x\ \ = 0.8};
\end{axis}

\begin{axis}[tdax, at={(296.4pt,40.8pt)}, anchor=south west, width=219.6pt, height=176.4pt,
  ymin=-0.5, ymax=5, ytick={0,1,...,5},
  legend style={at={(0.044,0.950)}},
  xlabel style={at={(axis description cs:0.5,-0.1054)}},
  ylabel style={at={(axis description cs:-0.0874,0.5)}}]
\nine{\tF}
\node[ptitle] at (rel axis cs:0.557,0.908) {(f) x = 1};
\end{axis}
\end{tikzpicture}
\end{document}
